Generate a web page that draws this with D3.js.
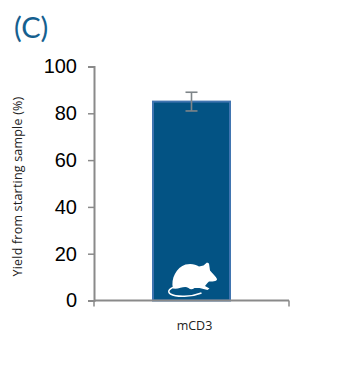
<!DOCTYPE html>
<html>
<head>
<meta charset="utf-8">
<script src="https://cdn.jsdelivr.net/npm/d3@7"></script>
<style>
  html, body { margin: 0; padding: 0; background: #fff; }
  svg { display: block; }
</style>
</head>
<body>
<div id="chart"></div>
<script>
const categories = ["mCD3"];
const yields = [85];
const errLow = [81];
const errHigh = [89];
const yTicks = [0, 20, 40, 60, 80, 100];

const width = 355, height = 373;
const margin = { top: 66.5, left: 94, bottom: 72.5, right: 66 };

const svg = d3.select("#chart").append("svg")
  .attr("width", width)
  .attr("height", height);

const x = d3.scaleBand()
  .domain(categories)
  .range([margin.left, width - margin.right])
  .padding(0.4235);

const y = d3.scaleLinear()
  .domain([0, 100])
  .range([height - margin.bottom, margin.top]);

// panel letter
svg.append("text")
  .attr("x", 14)
  .attr("y", 38)
  .attr("font-family", "Lato")
  .attr("font-weight", 400)
  .attr("font-size", 29)
  .attr("fill", "#15608f")
  .text("(C)");

// bars
svg.selectAll(".bar")
  .data(categories)
  .join("rect")
  .attr("class", "bar")
  .attr("x", d => x(d) + 1)
  .attr("y", (d, i) => y(yields[i]))
  .attr("width", x.bandwidth() - 2)
  .attr("height", (d, i) => y(0) - y(yields[i]))
  .attr("fill", "#035384")
  .attr("stroke", "#3f74b0")
  .attr("stroke-width", 2);

// error bars
const err = svg.selectAll(".err")
  .data(categories)
  .join("g")
  .attr("class", "err")
  .attr("stroke", "#7f8589")
  .attr("stroke-width", 1.6);

err.append("line")
  .attr("x1", d => x(d) + x.bandwidth() / 2)
  .attr("x2", d => x(d) + x.bandwidth() / 2)
  .attr("y1", (d, i) => y(errLow[i]))
  .attr("y2", (d, i) => y(errHigh[i]));

err.selectAll(".cap")
  .data((d, i) => [errLow[i], errHigh[i]])
  .join("line")
  .attr("class", "cap")
  .attr("x1", x(categories[0]) + x.bandwidth() / 2 - 6)
  .attr("x2", x(categories[0]) + x.bandwidth() / 2 + 6)
  .attr("y1", d => y(d))
  .attr("y2", d => y(d));

// mouse icon, drawn around the bar centre and baseline
const mouse = svg.append("g")
  .attr("transform", `translate(${x(categories[0]) + x.bandwidth() / 2},${y(0)})`);

mouse.append("path")
  .attr("fill", "none")
  .attr("stroke", "#fff")
  .attr("stroke-width", 1.5)
  .attr("d", "M-14,-14 C-22,-13 -25,-9 -21,-6.5 C-15,-3 0,-3.5 10,-7.5");

mouse.append("path")
  .attr("fill", "#fff")
  .attr("d", "M-18.5,-12 C-21,-22 -15,-33 -6,-36 C0,-37.5 4,-36 7.5,-34 L12,-35 L15.5,-38 L17.5,-37 L18.5,-30 C21,-27 24.5,-24 25.5,-21.5 C25.5,-19.5 23,-19 17.5,-19 C15.5,-17 14.5,-16 13.5,-14.5 L18,-12 L16,-10.5 L8,-12.5 L3,-12.5 C1,-11 -1,-10.5 -3,-12.5 C-7,-15.5 -12,-11 -18.5,-12 Z");

// axes
const yAxis = d3.axisLeft(y).tickValues(yTicks).tickSize(6).tickPadding(11);
const gy = svg.append("g")
  .attr("transform", `translate(${margin.left},0)`)
  .call(yAxis);

gy.selectAll("text")
  .attr("font-family", "Liberation Sans")
  .attr("font-size", 20)
  .attr("fill", "#000");

const gx = svg.append("g")
  .attr("transform", `translate(0,${y(0)})`);

gx.append("line")
  .attr("x1", margin.left)
  .attr("x2", width - margin.right)
  .attr("stroke", "#8a8a8a")
  .attr("stroke-width", 2);

gx.selectAll(".edge")
  .data(x.range())
  .join("line")
  .attr("class", "edge")
  .attr("x1", d => d)
  .attr("x2", d => d)
  .attr("y2", 6)
  .attr("stroke", "#8a8a8a")
  .attr("stroke-width", 1.5);

gx.selectAll(".cat")
  .data(categories)
  .join("text")
  .attr("class", "cat")
  .attr("x", d => x(d) + x.bandwidth() / 2 + 3)
  .attr("y", 29)
  .attr("text-anchor", "middle")
  .attr("font-family", "Open Sans")
  .attr("font-size", 12.5)
  .attr("fill", "#222")
  .text(d => d);

gy.select(".domain").attr("stroke", "#8a8a8a").attr("stroke-width", 2);
gy.selectAll("line").attr("stroke", "#8a8a8a").attr("stroke-width", 1.5);

// y axis title
svg.append("text")
  .attr("transform", `translate(22,${(y(0) + y(100)) / 2 + 3}) rotate(-90)`)
  .attr("text-anchor", "middle")
  .attr("font-family", "Open Sans")
  .attr("font-size", 12.5)
  .attr("letter-spacing", 0.2)
  .attr("fill", "#222")
  .text("Yield from starting sample (%)");
</script>
</body>
</html>
